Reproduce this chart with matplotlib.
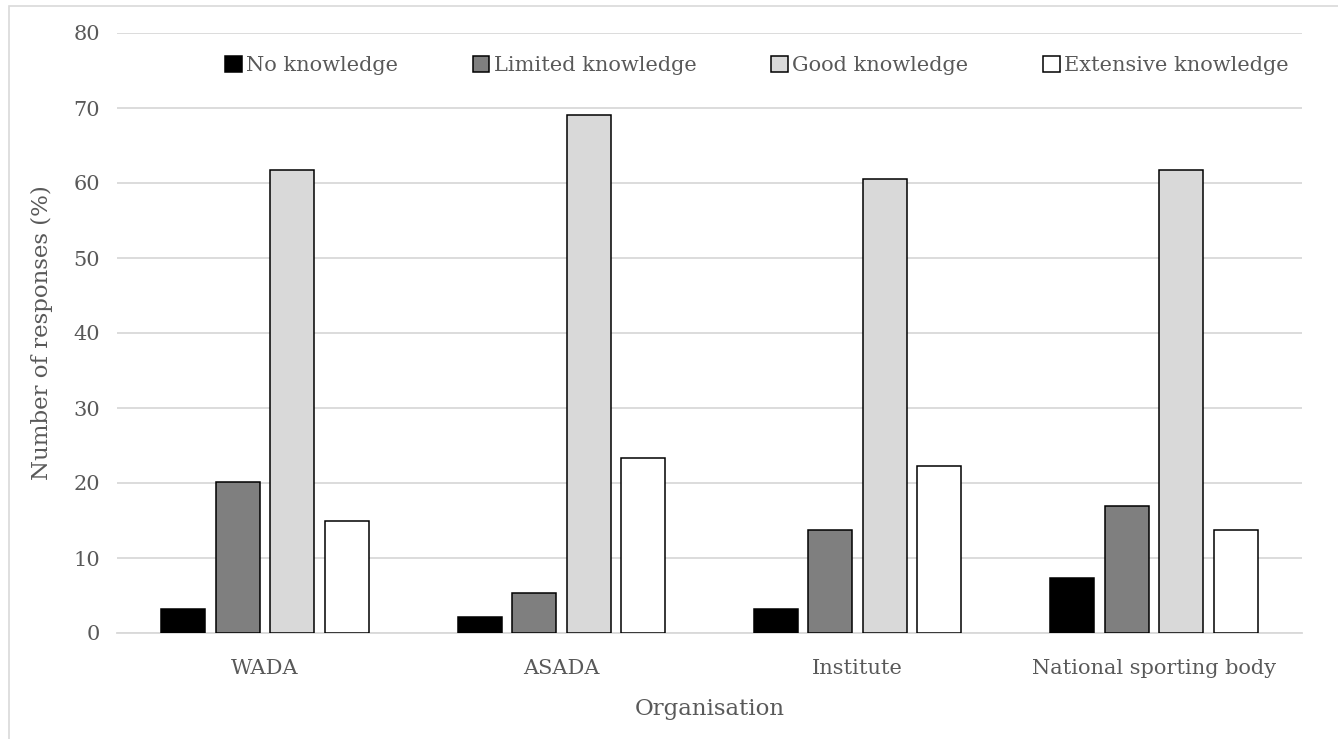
import matplotlib
matplotlib.use("Agg")
import matplotlib.pyplot as plt
from matplotlib.patches import Rectangle
import numpy as np

# Survey results: knowledge of each organisation (% of responses)
organisations = ["WADA", "ASADA", "Institute", "National sporting body"]
levels = ["No knowledge", "Limited knowledge", "Good knowledge", "Extensive knowledge"]
no_knowledge = [3.2, 2.1, 3.2, 7.4]
limited_knowledge = [20.2, 5.3, 13.8, 17.0]
good_knowledge = [61.7, 69.1, 60.6, 61.7]
extensive_knowledge = [14.9, 23.4, 22.3, 13.8]
y_ticks = [0, 10, 20, 30, 40, 50, 60, 70, 80]

series = [no_knowledge, limited_knowledge, good_knowledge, extensive_knowledge]
fills = ["#000000", "#7f7f7f", "#d9d9d9", "#ffffff"]

plt.rcParams["font.family"] = ["DejaVu Serif"]
text_col = "#595959"
grid_col = "#d9d9d9"

fig = plt.figure(figsize=(13.38, 7.39), dpi=100)
ax = fig.add_axes([117 / 1338, 1 - 633 / 739, (1302 - 117) / 1338, (633 - 33) / 739])

x = np.arange(len(organisations))
width = 0.149
step = 0.184
for i, (vals, fc, lab) in enumerate(zip(series, fills, levels)):
    ax.bar(x + (i - 1.5) * step, vals, width=width, color=fc,
           edgecolor="black", linewidth=1.1, label=lab, zorder=3)

ax.set_xlim(-0.5, len(organisations) - 0.5)
ax.set_ylim(0, 80)
ax.set_yticks(y_ticks)
ax.set_xticks(x)
ax.set_xticklabels(organisations)
ax.yaxis.grid(True, color=grid_col, linewidth=1.3, zorder=0)
ax.set_axisbelow(True)
for side in ["left", "right", "top"]:
    ax.spines[side].set_visible(False)
ax.spines["bottom"].set_color(grid_col)
ax.spines["bottom"].set_linewidth(1.3)
ax.tick_params(axis="both", length=0, labelsize=15, labelcolor=text_col)
ax.tick_params(axis="y", pad=12)
ax.tick_params(axis="x", pad=19)

ax.set_ylabel("Number of responses (%)", fontsize=16.5, color=text_col, labelpad=15)
ax.set_xlabel("Organisation", fontsize=16.5, color=text_col, labelpad=14)

leg = ax.legend(loc="upper center", bbox_to_anchor=(0.54, 0.99), ncol=4,
                frameon=False, fontsize=15, handlelength=0.8, handleheight=0.8,
                handletextpad=0.2, columnspacing=3.6, borderaxespad=0.4)
for t in leg.get_texts():
    t.set_color(text_col)

# light frame around the chart area
fig.patches.append(Rectangle((9 / 1338, -0.05), 1.1, 1 - 6 / 739 + 0.05,
                             transform=fig.transFigure, fill=False,
                             edgecolor=grid_col, linewidth=1.2))

fig.savefig("out.png", dpi=100)
